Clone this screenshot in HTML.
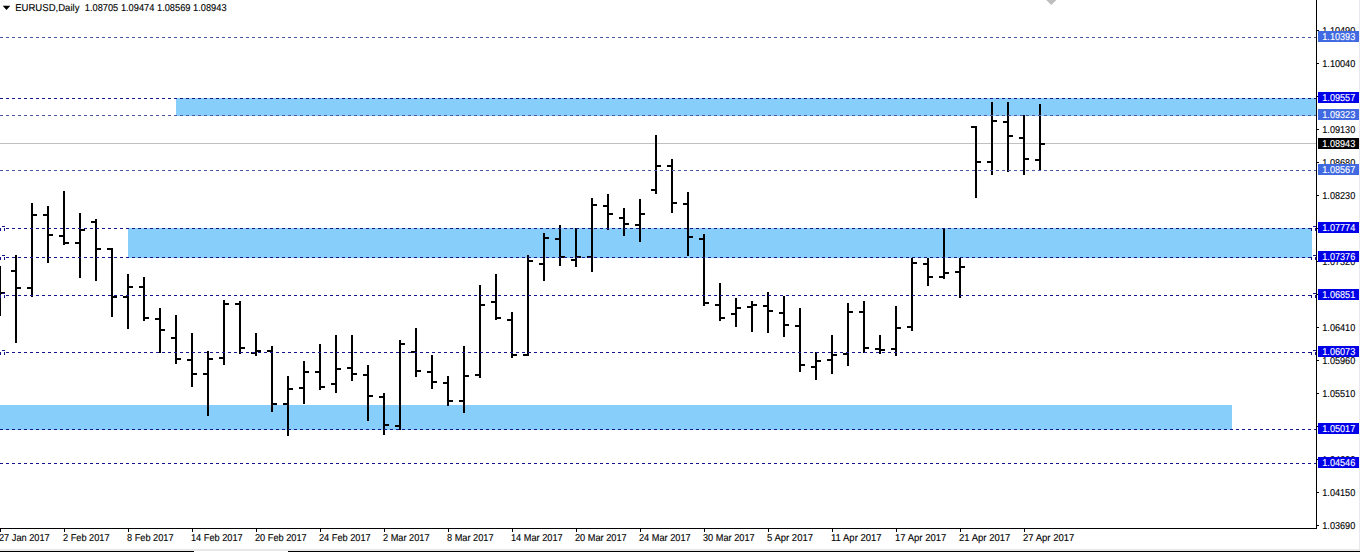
<!DOCTYPE html>
<html><head><meta charset="utf-8"><title>EURUSD,Daily</title>
<style>
html,body{margin:0;padding:0;background:#fff;overflow:hidden}
svg{display:block}
text{font-family:"Liberation Sans",sans-serif;font-size:10px;fill:#000;text-rendering:geometricPrecision;stroke:#000;stroke-width:0.12px}
.w{fill:#fff;stroke:#fff}
</style></head><body>
<svg width="1360" height="552" viewBox="0 0 1360 552" shape-rendering="crispEdges">
<rect x="0" y="0" width="1360" height="552" fill="#fff"/>
<rect x="176" y="98" width="1140" height="18" fill="#87cefa"/>
<rect x="128" y="228" width="1184" height="30" fill="#87cefa"/>
<rect x="0" y="405" width="1232" height="25" fill="#87cefa"/>
<rect x="0" y="143" width="1316" height="1" fill="#c0c0c0"/>
<polygon points="1046.2,0 1056.4,0 1051.3,5" fill="#bebebe" shape-rendering="auto"/>
<g fill="#000">
<rect x="-1" y="266" width="2" height="50"/><rect x="1" y="292" width="4" height="2"/>
<rect x="15" y="255" width="2" height="88"/><rect x="11" y="270" width="4" height="2"/><rect x="17" y="287" width="4" height="2"/>
<rect x="31" y="203" width="2" height="94"/><rect x="27" y="287" width="4" height="2"/><rect x="33" y="214" width="4" height="2"/>
<rect x="47" y="206" width="2" height="57"/><rect x="43" y="214" width="4" height="2"/><rect x="49" y="234" width="4" height="2"/>
<rect x="63" y="191" width="2" height="54"/><rect x="59" y="235" width="4" height="2"/><rect x="65" y="242" width="4" height="2"/>
<rect x="79" y="213" width="2" height="65"/><rect x="75" y="242" width="4" height="2"/><rect x="81" y="229" width="4" height="2"/>
<rect x="95" y="219" width="2" height="62"/><rect x="91" y="221" width="4" height="2"/><rect x="97" y="248" width="4" height="2"/>
<rect x="111" y="248" width="2" height="69"/><rect x="107" y="248" width="4" height="2"/><rect x="113" y="296" width="4" height="2"/>
<rect x="127" y="274" width="2" height="55"/><rect x="123" y="296" width="4" height="2"/><rect x="129" y="286" width="4" height="2"/>
<rect x="143" y="277" width="2" height="44"/><rect x="139" y="286" width="4" height="2"/><rect x="145" y="317" width="4" height="2"/>
<rect x="159" y="308" width="2" height="45"/><rect x="155" y="318" width="4" height="2"/><rect x="161" y="329" width="4" height="2"/>
<rect x="175" y="315" width="2" height="49"/><rect x="171" y="337" width="4" height="2"/><rect x="177" y="358" width="4" height="2"/>
<rect x="191" y="333" width="2" height="54"/><rect x="187" y="359" width="4" height="2"/><rect x="193" y="373" width="4" height="2"/>
<rect x="207" y="351" width="2" height="65"/><rect x="203" y="373" width="4" height="2"/><rect x="209" y="358" width="4" height="2"/>
<rect x="223" y="300" width="2" height="65"/><rect x="219" y="357" width="4" height="2"/><rect x="225" y="303" width="4" height="2"/>
<rect x="239" y="301" width="2" height="53"/><rect x="235" y="303" width="4" height="2"/><rect x="241" y="347" width="4" height="2"/>
<rect x="255" y="333" width="2" height="23"/><rect x="251" y="352" width="4" height="2"/><rect x="257" y="350" width="4" height="2"/>
<rect x="271" y="346" width="2" height="66"/><rect x="267" y="350" width="4" height="2"/><rect x="273" y="403" width="4" height="2"/>
<rect x="287" y="376" width="2" height="60"/><rect x="283" y="403" width="4" height="2"/><rect x="289" y="388" width="4" height="2"/>
<rect x="303" y="361" width="2" height="43"/><rect x="299" y="387" width="4" height="2"/><rect x="305" y="371" width="4" height="2"/>
<rect x="319" y="344" width="2" height="46"/><rect x="315" y="371" width="4" height="2"/><rect x="321" y="386" width="4" height="2"/>
<rect x="335" y="335" width="2" height="58"/><rect x="331" y="383" width="4" height="2"/><rect x="337" y="368" width="4" height="2"/>
<rect x="351" y="335" width="2" height="46"/><rect x="347" y="367" width="4" height="2"/><rect x="353" y="373" width="4" height="2"/>
<rect x="367" y="365" width="2" height="56"/><rect x="363" y="374" width="4" height="2"/><rect x="369" y="395" width="4" height="2"/>
<rect x="383" y="393" width="2" height="42"/><rect x="379" y="396" width="4" height="2"/><rect x="385" y="424" width="4" height="2"/>
<rect x="399" y="340" width="2" height="90"/><rect x="395" y="425" width="4" height="2"/><rect x="401" y="343" width="4" height="2"/>
<rect x="415" y="328" width="2" height="49"/><rect x="411" y="351" width="4" height="2"/><rect x="417" y="370" width="4" height="2"/>
<rect x="431" y="355" width="2" height="34"/><rect x="427" y="371" width="4" height="2"/><rect x="433" y="381" width="4" height="2"/>
<rect x="447" y="376" width="2" height="30"/><rect x="443" y="382" width="4" height="2"/><rect x="449" y="400" width="4" height="2"/>
<rect x="463" y="346" width="2" height="67"/><rect x="459" y="400" width="4" height="2"/><rect x="465" y="375" width="4" height="2"/>
<rect x="479" y="285" width="2" height="93"/><rect x="475" y="374" width="4" height="2"/><rect x="481" y="304" width="4" height="2"/>
<rect x="495" y="274" width="2" height="46"/><rect x="491" y="301" width="4" height="2"/><rect x="497" y="317" width="4" height="2"/>
<rect x="511" y="312" width="2" height="46"/><rect x="507" y="319" width="4" height="2"/><rect x="513" y="354" width="4" height="2"/>
<rect x="527" y="255" width="2" height="101"/><rect x="523" y="354" width="4" height="2"/><rect x="529" y="260" width="4" height="2"/>
<rect x="543" y="233" width="2" height="48"/><rect x="539" y="263" width="4" height="2"/><rect x="545" y="237" width="4" height="2"/>
<rect x="559" y="225" width="2" height="41"/><rect x="555" y="238" width="4" height="2"/><rect x="561" y="256" width="4" height="2"/>
<rect x="575" y="228" width="2" height="39"/><rect x="571" y="259" width="4" height="2"/><rect x="577" y="256" width="4" height="2"/>
<rect x="591" y="198" width="2" height="74"/><rect x="587" y="256" width="4" height="2"/><rect x="593" y="204" width="4" height="2"/>
<rect x="607" y="194" width="2" height="36"/><rect x="603" y="205" width="4" height="2"/><rect x="609" y="213" width="4" height="2"/>
<rect x="623" y="208" width="2" height="28"/><rect x="619" y="217" width="4" height="2"/><rect x="625" y="223" width="4" height="2"/>
<rect x="639" y="199" width="2" height="43"/><rect x="635" y="224" width="4" height="2"/><rect x="641" y="213" width="4" height="2"/>
<rect x="655" y="135" width="2" height="59"/><rect x="651" y="189" width="4" height="2"/><rect x="657" y="165" width="4" height="2"/>
<rect x="671" y="159" width="2" height="54"/><rect x="667" y="165" width="4" height="2"/><rect x="673" y="202" width="4" height="2"/>
<rect x="687" y="192" width="2" height="64"/><rect x="683" y="203" width="4" height="2"/><rect x="689" y="236" width="4" height="2"/>
<rect x="703" y="234" width="2" height="72"/><rect x="699" y="238" width="4" height="2"/><rect x="705" y="302" width="4" height="2"/>
<rect x="719" y="283" width="2" height="38"/><rect x="715" y="304" width="4" height="2"/><rect x="721" y="317" width="4" height="2"/>
<rect x="735" y="298" width="2" height="29"/><rect x="731" y="313" width="4" height="2"/><rect x="737" y="307" width="4" height="2"/>
<rect x="751" y="301" width="2" height="31"/><rect x="747" y="306" width="4" height="2"/><rect x="753" y="304" width="4" height="2"/>
<rect x="767" y="292" width="2" height="41"/><rect x="763" y="305" width="4" height="2"/><rect x="769" y="310" width="4" height="2"/>
<rect x="783" y="296" width="2" height="41"/><rect x="779" y="312" width="4" height="2"/><rect x="785" y="324" width="4" height="2"/>
<rect x="799" y="308" width="2" height="64"/><rect x="795" y="325" width="4" height="2"/><rect x="801" y="364" width="4" height="2"/>
<rect x="815" y="352" width="2" height="28"/><rect x="811" y="366" width="4" height="2"/><rect x="817" y="360" width="4" height="2"/>
<rect x="831" y="335" width="2" height="39"/><rect x="827" y="359" width="4" height="2"/><rect x="833" y="354" width="4" height="2"/>
<rect x="847" y="303" width="2" height="63"/><rect x="843" y="353" width="4" height="2"/><rect x="849" y="311" width="4" height="2"/>
<rect x="863" y="301" width="2" height="52"/><rect x="859" y="311" width="4" height="2"/><rect x="865" y="347" width="4" height="2"/>
<rect x="879" y="335" width="2" height="19"/><rect x="875" y="348" width="4" height="2"/><rect x="881" y="349" width="4" height="2"/>
<rect x="895" y="306" width="2" height="50"/><rect x="891" y="348" width="4" height="2"/><rect x="897" y="327" width="4" height="2"/>
<rect x="911" y="258" width="2" height="73"/><rect x="907" y="326" width="4" height="2"/><rect x="913" y="262" width="4" height="2"/>
<rect x="927" y="258" width="2" height="28"/><rect x="923" y="263" width="4" height="2"/><rect x="929" y="276" width="4" height="2"/>
<rect x="943" y="228" width="2" height="51"/><rect x="939" y="276" width="4" height="2"/><rect x="945" y="272" width="4" height="2"/>
<rect x="959" y="258" width="2" height="40"/><rect x="955" y="271" width="4" height="2"/><rect x="961" y="266" width="4" height="2"/>
<rect x="975" y="126" width="2" height="72"/><rect x="971" y="126" width="4" height="2"/><rect x="977" y="161" width="4" height="2"/>
<rect x="991" y="102" width="2" height="73"/><rect x="987" y="161" width="4" height="2"/><rect x="993" y="120" width="4" height="2"/>
<rect x="1007" y="102" width="2" height="70"/><rect x="1003" y="121" width="4" height="2"/><rect x="1009" y="135" width="4" height="2"/>
<rect x="1023" y="115" width="2" height="60"/><rect x="1019" y="137" width="4" height="2"/><rect x="1025" y="158" width="4" height="2"/>
<rect x="1039" y="104" width="2" height="67"/><rect x="1035" y="159" width="4" height="2"/><rect x="1041" y="143" width="4" height="2"/>
</g>
<line x1="0" y1="37.5" x2="1316" y2="37.5" stroke="#4a5a9e" stroke-width="1" stroke-dasharray="3 3"/>
<line x1="0" y1="98.5" x2="1316" y2="98.5" stroke="#14148c" stroke-width="1" stroke-dasharray="3 3"/>
<line x1="0" y1="115.5" x2="1316" y2="115.5" stroke="#4a5a9e" stroke-width="1" stroke-dasharray="3 3"/>
<line x1="0" y1="170.5" x2="1316" y2="170.5" stroke="#4a5a9e" stroke-width="1" stroke-dasharray="3 3"/>
<line x1="6" y1="228.5" x2="1311" y2="228.5" stroke="#14148c" stroke-width="1" stroke-dasharray="3 3"/>
<g fill="#14148c"><rect x="0" y="228" width="1" height="3"/><rect x="2" y="226" width="3" height="1"/><rect x="4" y="228" width="1" height="3"/><rect x="1311" y="228" width="1" height="3"/><rect x="1313" y="226" width="3" height="1"/><rect x="1315" y="228" width="1" height="3"/></g>
<line x1="6" y1="257.5" x2="1311" y2="257.5" stroke="#14148c" stroke-width="1" stroke-dasharray="3 3"/>
<g fill="#14148c"><rect x="0" y="257" width="1" height="3"/><rect x="2" y="255" width="3" height="1"/><rect x="4" y="257" width="1" height="3"/><rect x="1311" y="257" width="1" height="3"/><rect x="1313" y="255" width="3" height="1"/><rect x="1315" y="257" width="1" height="3"/></g>
<line x1="6" y1="295.5" x2="1311" y2="295.5" stroke="#14148c" stroke-width="1" stroke-dasharray="3 3"/>
<g fill="#14148c"><rect x="0" y="295" width="1" height="3"/><rect x="2" y="293" width="3" height="1"/><rect x="4" y="295" width="1" height="3"/><rect x="1311" y="295" width="1" height="3"/><rect x="1313" y="293" width="3" height="1"/><rect x="1315" y="295" width="1" height="3"/></g>
<line x1="6" y1="352.5" x2="1311" y2="352.5" stroke="#14148c" stroke-width="1" stroke-dasharray="3 3"/>
<g fill="#14148c"><rect x="0" y="352" width="1" height="3"/><rect x="2" y="350" width="3" height="1"/><rect x="4" y="352" width="1" height="3"/><rect x="1311" y="352" width="1" height="3"/><rect x="1313" y="350" width="3" height="1"/><rect x="1315" y="352" width="1" height="3"/></g>
<line x1="0" y1="429.5" x2="1316" y2="429.5" stroke="#14148c" stroke-width="1" stroke-dasharray="3 3"/>
<line x1="0" y1="463.5" x2="1316" y2="463.5" stroke="#14148c" stroke-width="1" stroke-dasharray="3 3"/>
<rect x="1316" y="0" width="1" height="529" fill="#000"/>
<rect x="0" y="528" width="1317" height="1" fill="#000"/>
<rect x="1317" y="30" width="2" height="1" fill="#000"/><text transform="translate(1322.3 34) scale(0.912 1)">1.10490</text>
<rect x="1317" y="63" width="2" height="1" fill="#000"/><text transform="translate(1322.3 67) scale(0.912 1)">1.10040</text>
<rect x="1317" y="96" width="2" height="1" fill="#000"/><text transform="translate(1322.3 100) scale(0.912 1)">1.09590</text>
<rect x="1317" y="129" width="2" height="1" fill="#000"/><text transform="translate(1322.3 133) scale(0.912 1)">1.09130</text>
<rect x="1317" y="162" width="2" height="1" fill="#000"/><text transform="translate(1322.3 166) scale(0.912 1)">1.08680</text>
<rect x="1317" y="195" width="2" height="1" fill="#000"/><text transform="translate(1322.3 199) scale(0.912 1)">1.08230</text>
<rect x="1317" y="228" width="2" height="1" fill="#000"/><text transform="translate(1322.3 232) scale(0.912 1)">1.07780</text>
<rect x="1317" y="261" width="2" height="1" fill="#000"/><text transform="translate(1322.3 265) scale(0.912 1)">1.07320</text>
<rect x="1317" y="294" width="2" height="1" fill="#000"/><text transform="translate(1322.3 298) scale(0.912 1)">1.06870</text>
<rect x="1317" y="327" width="2" height="1" fill="#000"/><text transform="translate(1322.3 331) scale(0.912 1)">1.06410</text>
<rect x="1317" y="360" width="2" height="1" fill="#000"/><text transform="translate(1322.3 364) scale(0.912 1)">1.05960</text>
<rect x="1317" y="393" width="2" height="1" fill="#000"/><text transform="translate(1322.3 397) scale(0.912 1)">1.05510</text>
<rect x="1317" y="426" width="2" height="1" fill="#000"/><text transform="translate(1322.3 430) scale(0.912 1)">1.05050</text>
<rect x="1317" y="459" width="2" height="1" fill="#000"/><text transform="translate(1322.3 463) scale(0.912 1)">1.04600</text>
<rect x="1317" y="492" width="2" height="1" fill="#000"/><text transform="translate(1322.3 496) scale(0.912 1)">1.04150</text>
<rect x="1317" y="525" width="2" height="1" fill="#000"/><text transform="translate(1322.3 529) scale(0.912 1)">1.03690</text>
<rect x="1318" y="31" width="41" height="11" fill="#4169e1"/><text class="w" transform="translate(1322.3 40) scale(0.912 1)">1.10393</text>
<rect x="1318" y="92" width="41" height="11" fill="#0000e8"/><text class="w" transform="translate(1322.3 101) scale(0.912 1)">1.09557</text>
<rect x="1318" y="109" width="41" height="11" fill="#4169e1"/><text class="w" transform="translate(1322.3 118) scale(0.912 1)">1.09323</text>
<rect x="1318" y="164" width="41" height="11" fill="#4169e1"/><text class="w" transform="translate(1322.3 173) scale(0.912 1)">1.08567</text>
<rect x="1318" y="222" width="41" height="11" fill="#0000e8"/><text class="w" transform="translate(1322.3 231) scale(0.912 1)">1.07774</text>
<rect x="1318" y="251" width="41" height="11" fill="#0000e8"/><text class="w" transform="translate(1322.3 260) scale(0.912 1)">1.07376</text>
<rect x="1318" y="289" width="41" height="11" fill="#0000e8"/><text class="w" transform="translate(1322.3 298) scale(0.912 1)">1.06851</text>
<rect x="1318" y="346" width="41" height="11" fill="#0000e8"/><text class="w" transform="translate(1322.3 355) scale(0.912 1)">1.06073</text>
<rect x="1318" y="423" width="41" height="11" fill="#0000e8"/><text class="w" transform="translate(1322.3 432) scale(0.912 1)">1.05017</text>
<rect x="1318" y="457" width="41" height="11" fill="#0000e8"/><text class="w" transform="translate(1322.3 466) scale(0.912 1)">1.04546</text>
<rect x="1318" y="138" width="41" height="11" fill="#000"/><text class="w" transform="translate(1322.3 147) scale(0.912 1)">1.08943</text>
<rect x="0" y="529" width="1" height="3" fill="#000"/><text transform="translate(-1 541) scale(0.9212 1)">27 Jan 2017</text>
<rect x="64" y="529" width="1" height="3" fill="#000"/><text transform="translate(63 541) scale(0.9212 1)">2 Feb 2017</text>
<rect x="128" y="529" width="1" height="3" fill="#000"/><text transform="translate(127 541) scale(0.9212 1)">8 Feb 2017</text>
<rect x="192" y="529" width="1" height="3" fill="#000"/><text transform="translate(191 541) scale(0.9212 1)">14 Feb 2017</text>
<rect x="256" y="529" width="1" height="3" fill="#000"/><text transform="translate(255 541) scale(0.9212 1)">20 Feb 2017</text>
<rect x="320" y="529" width="1" height="3" fill="#000"/><text transform="translate(319 541) scale(0.9212 1)">24 Feb 2017</text>
<rect x="384" y="529" width="1" height="3" fill="#000"/><text transform="translate(383 541) scale(0.9212 1)">2 Mar 2017</text>
<rect x="448" y="529" width="1" height="3" fill="#000"/><text transform="translate(447 541) scale(0.9212 1)">8 Mar 2017</text>
<rect x="512" y="529" width="1" height="3" fill="#000"/><text transform="translate(511 541) scale(0.9212 1)">14 Mar 2017</text>
<rect x="576" y="529" width="1" height="3" fill="#000"/><text transform="translate(575 541) scale(0.9212 1)">20 Mar 2017</text>
<rect x="640" y="529" width="1" height="3" fill="#000"/><text transform="translate(639 541) scale(0.9212 1)">24 Mar 2017</text>
<rect x="704" y="529" width="1" height="3" fill="#000"/><text transform="translate(703 541) scale(0.9212 1)">30 Mar 2017</text>
<rect x="768" y="529" width="1" height="3" fill="#000"/><text transform="translate(767 541) scale(0.9513 1)">5 Apr 2017</text>
<rect x="832" y="529" width="1" height="3" fill="#000"/><text transform="translate(831 541) scale(0.9513 1)">11 Apr 2017</text>
<rect x="896" y="529" width="1" height="3" fill="#000"/><text transform="translate(895 541) scale(0.9513 1)">17 Apr 2017</text>
<rect x="960" y="529" width="1" height="3" fill="#000"/><text transform="translate(959 541) scale(0.9513 1)">21 Apr 2017</text>
<rect x="1024" y="529" width="1" height="3" fill="#000"/><text transform="translate(1023 541) scale(0.9513 1)">27 Apr 2017</text>
<polygon points="2.7,5.8 10.3,5.8 6.5,9.9" fill="#000" shape-rendering="auto"/>
<text transform="translate(15.2 11) scale(0.955 1)">EURUSD,Daily</text>
<text transform="translate(84.8 11) scale(0.926 1)">1.08705</text>
<text transform="translate(120.9 11) scale(0.926 1)">1.09474</text>
<text transform="translate(157.0 11) scale(0.926 1)">1.08569</text>
<text transform="translate(193.1 11) scale(0.926 1)">1.08943</text>
<rect x="1359" y="0" width="1" height="549" fill="#e8e8ee"/>
<rect x="0" y="549" width="1360" height="2" fill="#e8e8e8"/>
<rect x="0" y="551" width="194" height="1" fill="#000"/><rect x="288" y="551" width="1072" height="1" fill="#000"/>
</svg>
</body></html>
